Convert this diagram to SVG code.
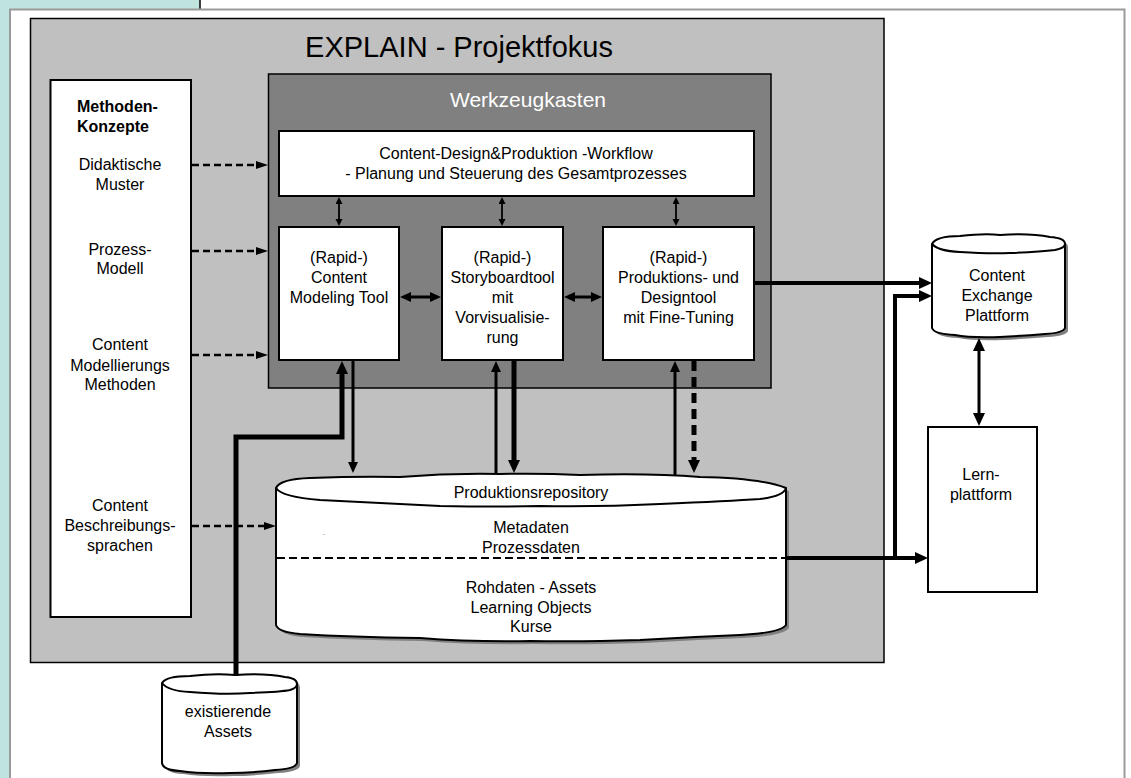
<svg xmlns="http://www.w3.org/2000/svg" width="1131" height="778" viewBox="0 0 1131 778">
<style>
text{font-family:"Liberation Sans",Arial,sans-serif;font-size:16px;fill:#000;text-anchor:middle}
.box{fill:#fff;stroke:#000;stroke-width:2}
.cyl{fill:#fff;stroke:#000;stroke-width:2;stroke-linejoin:round}
.shadow{fill:#808080}
.ln{fill:none;stroke:#000}
.dash{stroke-dasharray:7,4}
</style>
<defs>
<marker id="mS" markerUnits="userSpaceOnUse" markerWidth="8" markerHeight="8" refX="0" refY="3.5" orient="auto-start-reverse"><path d="M0,0 L7,3.5 L0,7 z" fill="#000"/></marker>
<marker id="mM" markerUnits="userSpaceOnUse" markerWidth="12" markerHeight="11" refX="0" refY="5" orient="auto-start-reverse"><path d="M0,0 L11,5 L0,10 z" fill="#000"/></marker>
<marker id="mL" markerUnits="userSpaceOnUse" markerWidth="14" markerHeight="13" refX="0" refY="6" orient="auto-start-reverse"><path d="M0,0 L13,6 L0,12 z" fill="#000"/></marker>
<marker id="mD" markerUnits="userSpaceOnUse" markerWidth="13" markerHeight="9" refX="0" refY="4" orient="auto-start-reverse"><path d="M0,0 L12,4 L0,8 z" fill="#000"/></marker>
</defs>

<!-- background -->
<rect x="0" y="0" width="1131" height="778" fill="#fff"/>
<rect x="0" y="0" width="200" height="778" fill="#bfe4e0"/>
<line x1="200" y1="0" x2="200" y2="9" stroke="#000" stroke-width="1.5"/>
<rect x="10" y="9.5" width="1114.5" height="780" fill="#fff" stroke="#9a9a9a" stroke-width="2"/>

<g id="explain">
<rect x="30.5" y="18.5" width="853.5" height="644" fill="#c0c0c0" stroke="#000" stroke-width="1.5"/>
<text x="459" y="57" style="font-size:29px">EXPLAIN - Projektfokus</text>
</g>

<g id="methoden">
<rect class="box" x="50.5" y="80" width="140.5" height="537"/>
<text x="77" y="112" style="font-weight:bold;text-anchor:start">Methoden-</text>
<text x="77" y="132" style="font-weight:bold;text-anchor:start">Konzepte</text>
<text x="120" y="170">Didaktische</text>
<text x="120" y="190">Muster</text>
<text x="120" y="255">Prozess-</text>
<text x="120" y="274">Modell</text>
<text x="120" y="350">Content</text>
<text x="120" y="371">Modellierungs</text>
<text x="120" y="390">Methoden</text>
<text x="120" y="511">Content</text>
<text x="120" y="531">Beschreibungs-</text>
<text x="120" y="551">sprachen</text>
</g>

<g id="werkzeugkasten">
<rect x="268.5" y="74" width="502.5" height="314" fill="#808080" stroke="#000" stroke-width="1.5"/>
<text x="528" y="107" style="font-size:21px;fill:#fff">Werkzeugkasten</text>
</g>

<g id="workflow">
<rect class="box" x="279" y="131" width="475" height="65"/>
<text x="516" y="159">Content-Design&amp;Produktion -Workflow</text>
<text x="516" y="179">- Planung und Steuerung des Gesamtprozesses</text>
</g>

<g id="tool1">
<rect class="box" x="279" y="227" width="120" height="133"/>
<text x="339" y="263">(Rapid-)</text>
<text x="339" y="283">Content</text>
<text x="339" y="303">Modeling Tool</text>
</g>
<g id="tool2">
<rect class="box" x="442" y="227" width="121" height="133"/>
<text x="502.5" y="263">(Rapid-)</text>
<text x="502.5" y="283">Storyboardtool</text>
<text x="502.5" y="303">mit</text>
<text x="502.5" y="323">Vorvisualisie-</text>
<text x="502.5" y="343">rung</text>
</g>
<g id="tool3">
<rect class="box" x="603" y="227" width="151" height="133"/>
<text x="678.5" y="263">(Rapid-)</text>
<text x="678.5" y="283">Produktions- und</text>
<text x="678.5" y="303">Designtool</text>
<text x="678.5" y="323">mit Fine-Tuning</text>
</g>

<g id="repository">
<path class="shadow" transform="translate(3,3)" d="M276,488 Q280,479 310,478 Q360,476 400,477 Q450,473 500,474 Q540,473 580,475 Q650,473 700,477 Q760,478 786,488 L786,625 Q780,633 740,635 Q690,637 640,640 Q580,642 530,641 Q470,642 420,638 Q350,637 300,634 Q278,632 276,625 Z"/>
<path class="cyl" d="M276,488 Q280,479 310,478 Q360,476 400,477 Q450,473 500,474 Q540,473 580,475 Q650,473 700,477 Q760,478 786,488 L786,625 Q780,633 740,635 Q690,637 640,640 Q580,642 530,641 Q470,642 420,638 Q350,637 300,634 Q278,632 276,625 Z"/>
<path class="ln" stroke-width="2" d="M276,488 Q282,497 320,500 Q380,503 440,506 Q500,507 540,506 Q600,507 660,504 Q730,501 760,499 Q784,496 786,488"/>
<line x1="277" y1="558" x2="786" y2="558" stroke="#000" stroke-width="2" stroke-dasharray="8,4"/>
<text x="531" y="498">Produktionsrepository</text>
<text x="531" y="533">Metadaten</text>
<text x="531" y="553">Prozessdaten</text>
<text x="531" y="593">Rohdaten - Assets</text>
<text x="531" y="613">Learning Objects</text>
<text x="531" y="632">Kurse</text>
<text x="324" y="536" style="font-size:8px;fill:#999">-</text>
</g>

<g id="contentexchange">
<path class="shadow" transform="translate(3,3)" d="M932,244 Q936,236 960,236 Q985,233 1000,235 Q1030,233 1050,237 Q1065,238 1065,244 L1065,328 Q1063,333 1045,334 Q1020,336 1000,337 Q970,338 955,335 Q934,334 932,328 Z"/>
<path class="cyl" d="M932,244 Q936,236 960,236 Q985,233 1000,235 Q1030,233 1050,237 Q1065,238 1065,244 L1065,328 Q1063,333 1045,334 Q1020,336 1000,337 Q970,338 955,335 Q934,334 932,328 Z"/>
<path class="ln" stroke-width="2" d="M932,244 Q938,251 960,252 Q990,254 1010,253 Q1040,252 1055,250 Q1065,248 1065,244"/>
<text x="997" y="281">Content</text>
<text x="997" y="301">Exchange</text>
<text x="997" y="321">Plattform</text>
</g>

<g id="lernplattform">
<rect class="box" x="928" y="427" width="109" height="165"/>
<text x="981" y="480">Lern-</text>
<text x="981" y="500">plattform</text>
</g>

<g id="assets">
<path class="shadow" transform="translate(3,3)" d="M162,683 Q166,676 190,676 Q215,673 235,675 Q265,673 285,677 Q297,678 297,684 L297,763 Q295,769 275,770 Q250,773 230,773 Q200,774 180,771 Q163,770 162,763 Z"/>
<path class="cyl" d="M162,683 Q166,676 190,676 Q215,673 235,675 Q265,673 285,677 Q297,678 297,684 L297,763 Q295,769 275,770 Q250,773 230,773 Q200,774 180,771 Q163,770 162,763 Z"/>
<path class="ln" stroke-width="2" d="M162,683 Q168,691 190,692 Q225,695 250,693 Q280,692 290,690 Q297,688 297,684"/>
<text x="228" y="717">existierende</text>
<text x="228" y="737">Assets</text>
</g>

<g id="connectors">
<!-- Methoden dashed arrows -->
<line class="ln dash" stroke-width="2.5" x1="192" y1="165" x2="256" y2="165" marker-end="url(#mD)"/>
<line class="ln dash" stroke-width="2.5" x1="192" y1="251" x2="256" y2="251" marker-end="url(#mD)"/>
<line class="ln dash" stroke-width="2.5" x1="192" y1="355" x2="256" y2="355" marker-end="url(#mD)"/>
<line class="ln dash" stroke-width="2.5" x1="192" y1="526" x2="264" y2="526" marker-end="url(#mD)"/>
<!-- workflow <-> tools -->
<line class="ln" stroke-width="1.8" x1="339" y1="204" x2="339" y2="219" marker-start="url(#mS)" marker-end="url(#mS)"/>
<line class="ln" stroke-width="1.8" x1="502" y1="204" x2="502" y2="219" marker-start="url(#mS)" marker-end="url(#mS)"/>
<line class="ln" stroke-width="1.8" x1="676" y1="204" x2="676" y2="219" marker-start="url(#mS)" marker-end="url(#mS)"/>
<!-- tool <-> tool -->
<line class="ln" stroke-width="3" x1="411" y1="297" x2="430" y2="297" marker-start="url(#mM)" marker-end="url(#mM)"/>
<line class="ln" stroke-width="3" x1="575" y1="297" x2="591" y2="297" marker-start="url(#mM)" marker-end="url(#mM)"/>
<!-- assets -> tool1 -->
<path class="ln" stroke-width="5" d="M236,676 L236,437 L342,437 L342,374" marker-end="url(#mL)"/>
<!-- tool1 -> repo -->
<line class="ln" stroke-width="3" x1="353" y1="361" x2="353" y2="462" marker-end="url(#mM)"/>
<!-- repo -> tool2 -->
<line class="ln" stroke-width="3" x1="496" y1="474" x2="496" y2="372" marker-end="url(#mM)"/>
<!-- tool2 -> repo -->
<line class="ln" stroke-width="5" x1="514" y1="361" x2="514" y2="460" marker-end="url(#mL)"/>
<!-- repo -> tool3 -->
<line class="ln" stroke-width="3" x1="675" y1="476" x2="675" y2="372" marker-end="url(#mM)"/>
<!-- tool3 -> repo dashed -->
<line class="ln" stroke-width="5" stroke-dasharray="10,6" x1="694" y1="361" x2="694" y2="460" marker-end="url(#mL)"/>
<!-- tool3 -> content exchange -->
<line class="ln" stroke-width="4" x1="754" y1="283" x2="919" y2="283" marker-end="url(#mL)"/>
<!-- repo -> lernplattform -->
<line class="ln" stroke-width="4" x1="786" y1="558" x2="915" y2="558" marker-end="url(#mL)"/>
<!-- repo -> content exchange -->
<path class="ln" stroke-width="4" d="M895,558 L895,296 L919,296" marker-end="url(#mL)"/>
<!-- content exchange <-> lernplattform -->
<line class="ln" stroke-width="3" x1="979" y1="351" x2="979" y2="413" marker-start="url(#mL)" marker-end="url(#mL)"/>
</g>
</svg>
